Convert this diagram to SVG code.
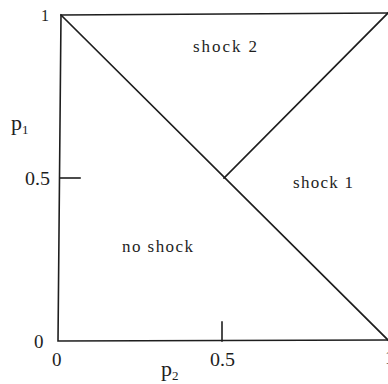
<svg xmlns="http://www.w3.org/2000/svg" width="388" height="384" viewBox="0 0 388 384">
<style>
.ln{stroke:#1e1e1e;stroke-width:1.6;fill:none;stroke-linecap:square}
.t{font-family:"Liberation Serif","Times New Roman",serif;fill:#1e1e1e}
</style>
<rect width="388" height="384" fill="#ffffff"/>
<g id="frame">
<polyline class="ln" points="388,13 61,15 58,341 388,340"/>
</g>
<g id="connectors">
<line class="ln" x1="61" y1="15" x2="388" y2="340"/>
<line class="ln" x1="224" y1="178" x2="388" y2="13"/>
<line class="ln" x1="60" y1="178" x2="80" y2="178"/>
<line class="ln" x1="222" y1="322" x2="222" y2="341"/>
</g>
<g id="region-shock2"><text class="t" x="193" y="52" font-size="17" textLength="64" lengthAdjust="spacing">shock 2</text></g>
<g id="region-shock1"><text class="t" x="293" y="188" font-size="17" textLength="60" lengthAdjust="spacing">shock 1</text></g>
<g id="region-noshock"><text class="t" x="122" y="252" font-size="17" textLength="71" lengthAdjust="spacing">no shock</text></g>
<g id="axis-labels">
<text class="t" x="41" y="21" font-size="16">1</text>
<text class="t" x="11" y="130" font-size="22">p<tspan font-size="13" dy="4">1</tspan></text>
<text class="t" x="25" y="185" font-size="18" textLength="25" lengthAdjust="spacingAndGlyphs">0.5</text>
<text class="t" x="34" y="348" font-size="19">0</text>
<text class="t" x="52" y="366" font-size="19">0</text>
<text class="t" x="210" y="366" font-size="18" textLength="25" lengthAdjust="spacingAndGlyphs">0.5</text>
<text class="t" x="161" y="376" font-size="22">p<tspan font-size="13" dy="4">2</tspan></text>
<text class="t" x="385" y="364" font-size="19">1</text>
</g>
</svg>
